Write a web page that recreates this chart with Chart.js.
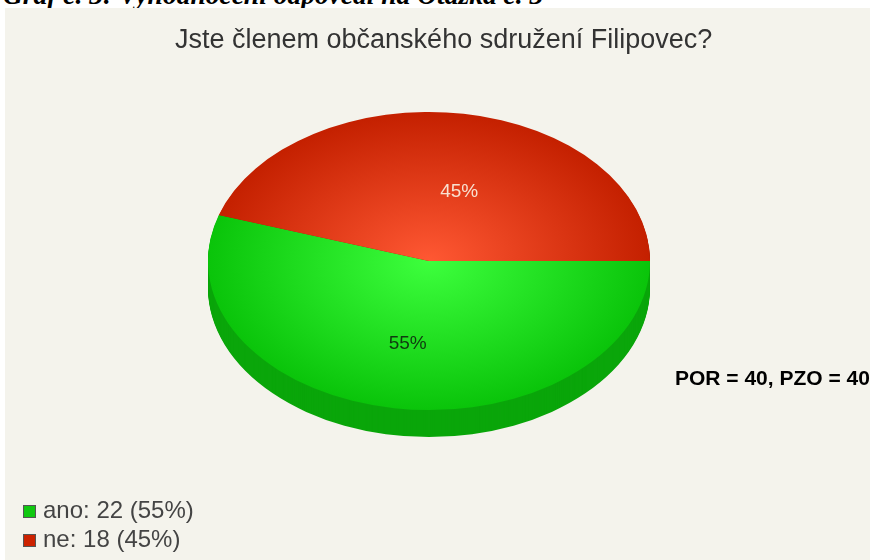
<!DOCTYPE html>
<html>
<head>
<meta charset="utf-8">
<script src="https://cdn.jsdelivr.net/npm/chart.js@4"></script>
<style>
html, body { margin: 0; padding: 0; background: #fff; }
body { width: 870px; height: 560px; overflow: hidden; position: relative; }
#panel { position: absolute; left: 5px; top: 8px; width: 865px; height: 552px; background: #f4f3ec; }
#wrap { position: absolute; left: 0; top: 0; width: 870px; height: 560px; }
.txt { position: absolute; white-space: nowrap; }
#heading { left: 3px; top: -21px; font: italic bold 27.5px "Liberation Serif", serif; color: #000; }
#title { left: 175px; top: 24px; font: 27px "Liberation Sans", sans-serif; color: #333; }
#note { left: 675px; top: 366px; font: bold 21px "Liberation Sans", sans-serif; color: #000; }
#legend { left: 23px; top: 495px; font: 24px/29px "Liberation Sans", sans-serif; color: #444; }
#legend i { display: inline-block; width: 13px; height: 13px; margin-right: 7px; border: 1px solid #555; box-sizing: border-box; }
</style>
</head>
<body>
<div class="txt" id="heading"></div>
<div id="panel"></div>
<div id="wrap"><canvas id="myChart" width="870" height="560"></canvas></div>
<div class="txt" id="title"></div>
<div class="txt" id="note"></div>
<div class="txt" id="legend"></div>
<script>
const headingText = 'Graf č. 3: Vyhodnocení odpovědí na Otázka č. 3';
const titleText = 'Jste členem občanského sdružení Filipovec?';
const noteText = 'POR = 40, PZO = 40';
const categories = ['ano', 'ne'];
const counts = [22, 18];
const percents = [55, 45];
const centerColors = ['#3dff3d', '#ff5833'];
const edgeColors = ['#0ac40a', '#c42000'];
const sideColors = ['#0aa60a', '#a01a00'];
const legendColors = ['#10c810', '#cc2200'];
const labelColors = ['#103a10', '#f8e0d0'];

document.getElementById('heading').textContent = headingText;
document.getElementById('title').textContent = titleText;
document.getElementById('note').textContent = noteText;
document.getElementById('legend').innerHTML = categories.map(function (c, i) {
    return '<div><i style="background:' + legendColors[i] + '"></i>' + c + ': ' + counts[i] + ' (' + percents[i] + '%)</div>';
}).join('');

// squash factor for the tilted look, and the height of the pie's side wall
const squash = 149 / 221;
const depth = 27;

function fill(context) {
    const area = context.chart.chartArea;
    if (!area) return edgeColors[context.dataIndex];
    const cx = (area.left + area.right) / 2;
    const cy = (area.top + area.bottom) / 2;
    const r = Math.min(area.right - area.left, area.bottom - area.top) / 2;
    const g = context.chart.ctx.createRadialGradient(cx, cy, 0, cx, cy, r);
    g.addColorStop(0, centerColors[context.dataIndex]);
    g.addColorStop(1, edgeColors[context.dataIndex]);
    return g;
}

const tiltPlugin = {
    id: 'tilt',
    beforeDatasetsDraw(chart) {
        const ctx = chart.ctx;
        const arcs = chart.getDatasetMeta(0).data;
        const cy = arcs[0].y;
        ctx.save();
        ctx.translate(0, cy);
        ctx.scale(1, squash);
        ctx.translate(0, -cy);
        // side wall: the same arcs stacked downwards, red first so green ends on top
        for (let i = arcs.length - 1; i >= 0; i--) {
            const a = arcs[i];
            ctx.fillStyle = sideColors[i];
            for (let d = depth; d > 0; d--) {
                ctx.beginPath();
                ctx.moveTo(a.x, a.y + d / squash);
                ctx.arc(a.x, a.y + d / squash, a.outerRadius, a.startAngle, a.endAngle);
                ctx.closePath();
                ctx.fill();
            }
        }
    },
    afterDatasetsDraw(chart) {
        const ctx = chart.ctx;
        ctx.restore();
        const arcs = chart.getDatasetMeta(0).data;
        ctx.save();
        ctx.font = '19px "Liberation Sans", sans-serif';
        ctx.textAlign = 'center';
        ctx.textBaseline = 'middle';
        arcs.forEach(function (a, i) {
            const mid = (a.startAngle + a.endAngle) / 2;
            // ano sits further out than ne, and ne is pushed right
            const r = a.outerRadius * (i === 0 ? 0.56 : 0.47);
            const nudge = i === 0 ? -2 : 14;
            ctx.fillStyle = labelColors[i];
            ctx.fillText(percents[i] + '%', a.x + Math.cos(mid) * r + nudge, a.y + Math.sin(mid) * r * squash);
        });
        ctx.restore();
    }
};

new Chart(document.getElementById('myChart'), {
    type: 'pie',
    data: {
        labels: categories,
        datasets: [{
            data: counts,
            backgroundColor: fill,
            borderWidth: 0
        }]
    },
    options: {
        responsive: false,
        animation: false,
        rotation: 90,
        layout: { padding: { left: 208, right: 220, top: 40, bottom: 78 } },
        plugins: { legend: { display: false }, tooltip: { enabled: false } }
    },
    plugins: [tiltPlugin]
});
</script>
</body>
</html>
